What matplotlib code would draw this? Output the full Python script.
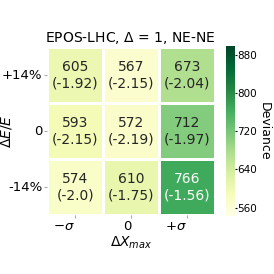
import numpy as np
import matplotlib
matplotlib.use("Agg")
import matplotlib.pyplot as plt
import seaborn as sns

# rows: +14%, 0, -14%; cols: -sigma, 0, +sigma
deviance = [[605, 567, 673],
            [593, 572, 712],
            [574, 610, 766]]
lnA = [["-1.92", "-2.15", "-2.04"],
       ["-2.15", "-2.19", "-1.97"],
       ["-2.0", "-1.75", "-1.56"]]
xlabels = [r"$-\sigma$", "0", r"$+\sigma$"]
ylabels = ["+14%", "0", "-14%"]

annot = np.array([[f"{deviance[i][j]}\n({lnA[i][j]})" for j in range(3)] for i in range(3)])

fig = plt.figure(figsize=(2.74, 2.74), dpi=100)
ax = fig.add_axes([0.172, 0.215, 0.613, 0.613])
cax = fig.add_axes([0.825, 0.213, 0.032, 0.618])

sns.heatmap(np.array(deviance), ax=ax, cbar_ax=cax, cmap="YlGn", vmin=543, vmax=899,
            annot=annot, fmt="", linewidths=0.8, linecolor="white",
            annot_kws={"fontsize": 10})

ax.set_xticklabels(xlabels, fontsize=9.5, ha="right")
ax.set_yticklabels(ylabels, fontsize=9.5, rotation=0)
ax.tick_params(length=2, pad=1.5, color="#aaaaaa")
ax.set_xlabel(r"$\Delta X_{max}$", fontsize=10, labelpad=1)
ax.set_ylabel(r"$\Delta E/E$", fontsize=10)
ax.yaxis.set_label_coords(-0.2, 0.5)
ax.set_title(r"EPOS-LHC, $\Delta$ = 1, NE-NE ", fontsize=10, pad=4)

cax.set_yticks([560, 640, 720, 800, 880])
cax.tick_params(labelsize=7.5, length=1.5, pad=0.5)
cax.set_ylabel("Deviance", rotation=270, fontsize=9, labelpad=10)

fig.savefig("out.png", dpi=100)
